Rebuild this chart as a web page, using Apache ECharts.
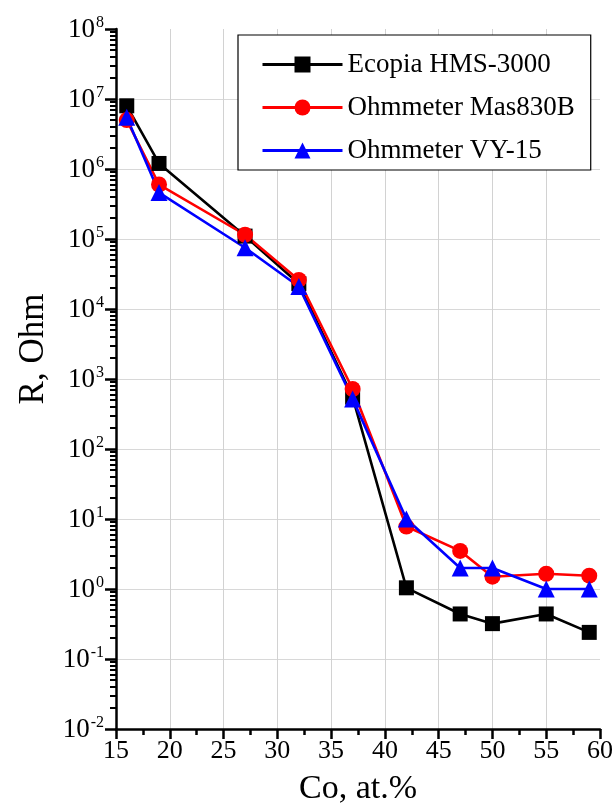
<!DOCTYPE html>
<html>
<head>
<meta charset="utf-8">
<script src="https://cdn.jsdelivr.net/npm/echarts@6/dist/echarts.min.js"></script>
<style>
  html, body { margin: 0; padding: 0; background: #fff; }
  #chart { width: 616px; height: 811px; }
</style>
</head>
<body>
<div id="chart"></div>
<script>
// Cobalt content, at.%
const coContent = [16, 19, 27, 32, 37, 42, 47, 50, 55, 59];
// Resistance, Ohm, per instrument
const ecopiaHMS3000 = [8.0e6, 1.2e6, 1.1e5, 2.3e4, 5.5e2, 1.04, 0.44, 0.32, 0.44, 0.24];
const ohmmeterMas830B = [5.0e6, 6.0e5, 1.15e5, 2.6e4, 7.2e2, 7.8, 3.5, 1.5, 1.65, 1.55];
const ohmmeterVY15 = [5.5e6, 4.6e5, 7.5e4, 2.1e4, 5.2e2, 10, 2.0, 2.0, 1.0, 1.0];

const seriesNames = ['Ecopia HMS-3000', 'Ohmmeter Mas830B', 'Ohmmeter VY-15'];

// Log-axis decade range: major ticks at 10^n, minor at 2..9 x 10^n
const minExp = -2, maxExp = 8;
const majorLogTicks = [];
const minorLogTicks = [];
for (let e = minExp; e <= maxExp; e++) {
  majorLogTicks.push(Math.pow(10, e));
  if (e < maxExp) for (let m = 2; m <= 9; m++) minorLogTicks.push(m * Math.pow(10, e));
}

const FONT = '"Liberation Serif", "Times New Roman", serif';
const pair = ys => coContent.map((x, i) => [x, ys[i]]);

function powerLabel(v) {
  const e = Math.round(Math.log10(v));
  return '{b|10}{e|' + e + '}';
}

const chart = echarts.init(document.getElementById('chart'), null, { renderer: 'canvas' });

const lineSeries = (name, ys, color, symbol, size) => ({
  name, type: 'line', data: pair(ys),
  xAxisIndex: 0, yAxisIndex: 0,
  symbol, symbolSize: size,
  lineStyle: { color, width: 2.6 },
  itemStyle: { color, borderWidth: 0 },
  emphasis: { disabled: true },
  animation: false
});

chart.setOption({
  animation: false,
  backgroundColor: '#fff',
  grid: { left: 116, right: 14, top: 29, bottom: 82, containLabel: false },
  legend: {
    left: 238, top: 35,
    orient: 'vertical',
    padding: [16, 16, 6, 23],
    itemWidth: 80, itemHeight: 20, itemGap: 16,
    borderColor: '#000', borderWidth: 1.2,
    backgroundColor: '#fff',
    lineStyle: { width: 3 },
    textStyle: { fontFamily: FONT, fontSize: 27, color: '#000', lineHeight: 20 },
    data: seriesNames
  },
  xAxis: {
    type: 'value', min: 15, max: 60, interval: 5,
    name: 'Co, at.%', nameLocation: 'middle', nameGap: 43,
    nameTextStyle: { fontFamily: FONT, fontSize: 34, color: '#000' },
    axisLine: { show: true, onZero: false, lineStyle: { color: '#000', width: 2.5 } },
    axisTick: { show: true, inside: false, length: 10, lineStyle: { color: '#000', width: 2.5 } },
    minorTick: { show: true, splitNumber: 2, length: 6, lineStyle: { color: '#000', width: 2.5 } },
    axisLabel: { fontFamily: FONT, fontSize: 26, color: '#000', margin: 9 },
    splitLine: { show: true, showMinLine: false, showMaxLine: false, lineStyle: { color: '#d2d2d2', width: 1 } }
  },
  yAxis: [{
    type: 'log', logBase: 10, min: 1e-2, max: 1e8, interval: 1,
    name: 'R, Ohm', nameLocation: 'middle', nameGap: 58, nameRotate: 90,
    nameTextStyle: { fontFamily: FONT, fontSize: 35, color: '#000', padding: [0, 0, 0, 60] },
    axisLine: { show: true, onZero: false, lineStyle: { color: '#000', width: 2.5 } },
    axisTick: { show: true, inside: false, length: 11, customValues: majorLogTicks, lineStyle: { color: '#000', width: 2.5 } },
    axisLabel: {
      fontFamily: FONT, color: '#000', margin: 12,
      customValues: majorLogTicks,
      formatter: powerLabel,
      rich: {
        b: { fontFamily: FONT, fontSize: 27, color: '#000', verticalAlign: 'bottom' },
        e: { fontFamily: FONT, fontSize: 16, color: '#000', verticalAlign: 'top', padding: [0, 0, 12, 1] }
      }
    },
    splitLine: { show: true, showMinLine: false, showMaxLine: false, lineStyle: { color: '#d8d8d8', width: 1 } }
  }, {
    // minor ticks at 2..9 x 10^n
    type: 'log', logBase: 10, min: 1e-2, max: 1e8, position: 'left',
    axisLine: { show: false },
    axisTick: { show: true, inside: false, length: 6, customValues: minorLogTicks, lineStyle: { color: '#000', width: 2 } },
    axisLabel: { show: false },
    splitLine: { show: false }
  }],
  series: [
    lineSeries(seriesNames[0], ecopiaHMS3000, '#000000', 'rect', 15),
    lineSeries(seriesNames[1], ohmmeterMas830B, '#ff0000', 'circle', 16),
    lineSeries(seriesNames[2], ohmmeterVY15, '#0000ff', 'triangle', 17)
  ]
});
</script>
</body>
</html>
